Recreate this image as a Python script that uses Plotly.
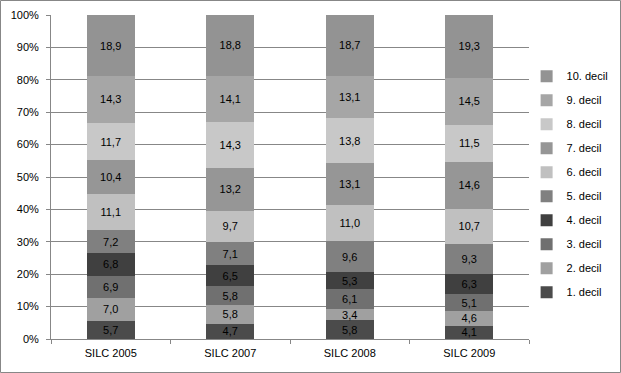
import plotly.graph_objects as go

categories = ["SILC 2005", "SILC 2007", "SILC 2008", "SILC 2009"]
decil_names = ["1. decil", "2. decil", "3. decil", "4. decil", "5. decil",
               "6. decil", "7. decil", "8. decil", "9. decil", "10. decil"]

d1 = [5.7, 4.7, 5.8, 4.1]
d2 = [7.0, 5.8, 3.4, 4.6]
d3 = [6.9, 5.8, 6.1, 5.1]
d4 = [6.8, 6.5, 5.3, 6.3]
d5 = [7.2, 7.1, 9.6, 9.3]
d6 = [11.1, 9.7, 11.0, 10.7]
d7 = [10.4, 13.2, 13.1, 14.6]
d8 = [11.7, 14.3, 13.8, 11.5]
d9 = [14.3, 14.1, 13.1, 14.5]
d10 = [18.9, 18.8, 18.7, 19.3]

series = [d1, d2, d3, d4, d5, d6, d7, d8, d9, d10]
colors = ["#4b4b4b", "#a0a0a0", "#707070", "#404040", "#808080",
          "#c0c0c0", "#969696", "#c8c8c8", "#a6a6a6", "#939393"]

W, H = 621, 373
ml, mr, mt, mb = 51, 92, 15, 34
pw, ph = W - ml - mr, H - mt - mb

FONT = "Liberation Sans"
FS = 11

fig = go.Figure()
for i, (name, vals, col) in enumerate(zip(decil_names, series, colors)):
    fig.add_trace(go.Bar(
        x=categories, y=vals, name=name, legendgroup=name,
        legendrank=1000 - i,
        marker=dict(color=col, line=dict(width=0)),
        text=[f"{v:.1f}".replace(".", ",") for v in vals],
        textposition="inside", insidetextanchor="middle",
        textangle=0, constraintext="none",
        textfont=dict(family=FONT, size=FS, color="#000000"),
        hoverinfo="skip",
    ))

fig.update_layout(
    width=W, height=H,
    margin=dict(l=ml, r=mr, t=mt, b=mb, pad=0, autoexpand=False),
    barmode="stack", barnorm="percent", bargap=0.6,
    plot_bgcolor="white", paper_bgcolor="white",
    font=dict(family=FONT, size=FS, color="#000000"),
    legend=dict(
        traceorder="grouped", x=0.995, xanchor="left", y=0.856, yanchor="top",
        font=dict(family=FONT, size=FS, color="#000000"),
        tracegroupgap=5, itemwidth=30,
        bgcolor="rgba(0,0,0,0)",
    ),
    xaxis=dict(
        showline=True, linecolor="#878787", linewidth=1,
        ticks="outside", tickson="boundaries", ticklen=4, tickcolor="#878787",
        showgrid=False, fixedrange=True, ticklabelstandoff=4,
        tickfont=dict(family=FONT, size=FS),
    ),
    yaxis=dict(
        range=[0, 100], tickvals=list(range(0, 101, 10)),
        ticktext=[f"{v}%" for v in range(0, 101, 10)],
        showline=True, linecolor="#878787", linewidth=1,
        ticks="outside", ticklen=4, tickcolor="#878787",
        showgrid=True, gridcolor="#878787", gridwidth=1,
        zeroline=False, fixedrange=True, ticklabelstandoff=5,
        tickfont=dict(family=FONT, size=FS),
    ),
    shapes=[dict(
        type="rect", xref="paper", yref="paper",
        x0=(0.5 - ml) / pw, x1=(W - 0.5 - ml) / pw,
        y0=-(mb - 0.5) / ph, y1=1 + (mt - 0.5) / ph,
        line=dict(color="#878787", width=1), fillcolor="rgba(0,0,0,0)",
        layer="above",
    )],
)

fig.write_html("out.html", config={"displayModeBar": False},
               post_script="document.body.style.margin='0';")
